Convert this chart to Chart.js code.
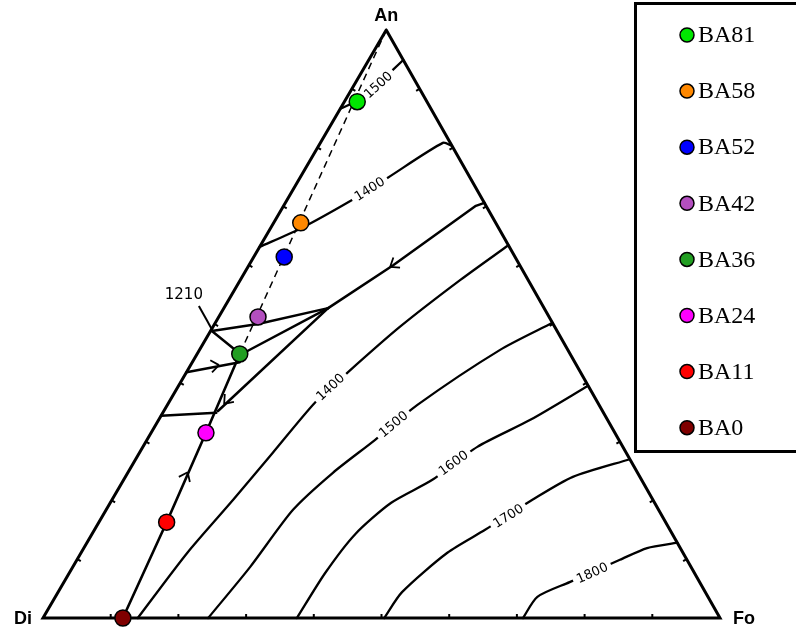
<!DOCTYPE html>
<html>
<head>
<meta charset="utf-8">
<script src="https://cdn.jsdelivr.net/npm/chart.js@4.4.1/dist/chart.umd.min.js"></script>
<style>
  html, body { margin: 0; padding: 0; background: #fff; }
  canvas { display: block; }
</style>
</head>
<body>
<canvas id="c" width="796" height="632"></canvas>
<script>
// Ternary system Di – An – Fo. Every composition is [An, Fo] in wt%; Di = 100 - An - Fo.

// Glass samples on the An – BA0 join
const sampleNames  = ['BA81', 'BA58', 'BA52', 'BA42', 'BA36', 'BA24', 'BA11', 'BA0'];
const sampleAn     = [87.8, 67.2, 61.4, 51.2, 44.9, 31.5, 16.3, 0.0];
const sampleFo     = [1.9, 4.0, 4.5, 5.8, 6.3, 8.1, 10.0, 11.8];
const sampleColors = ['#00e600', '#ff8800', '#0000ff', '#b34fbf', '#229e22', '#ff00ff', '#ff0000', '#7f0000'];

// Apexes and 10 % graduations
const vertexNames = ['An', 'Di', 'Fo'];
const vertices    = [[100, 0], [0, 0], [0, 100]];
const gradSteps   = [10, 20, 30, 40, 50, 60, 70, 80, 90];

// Isotherms (°C)
const iso1500Upper = [[94.9, 5.1], [90.8, 3.4], [88.4, 2.3], [86.6, 0.0]];
const iso1400Upper = [[63.1, 0.0], [66.2, 4.4], [71.1, 9.6], [74.8, 12.9], [80.8, 18.1], [80.3, 19.7]];
const iso1400Lower = [[0, 14.0], [11.1, 15.7], [20.1, 17.9], [28.1, 19.7], [36.6, 21.6], [41.7, 23.8], [49.5, 27.6], [57.5, 32.5], [63.4, 36.6]];
const iso1500Lower = [[0, 24.4], [8.7, 26.2], [18.4, 27.6], [24.7, 30.3], [30.3, 33.7], [36.2, 36.9], [45.6, 44.4], [50.2, 49.8]];
const iso1600      = [[0, 37.5], [7.7, 37.8], [14.3, 38.9], [19.6, 41.5], [23.5, 45.6], [29.1, 49.4], [33.7, 54.9], [39.5, 60.5]];
const iso1700      = [[0, 50.4], [4.4, 50.8], [11.1, 54.1], [15.0, 57.7], [20.1, 62.1], [24.0, 66.1], [27.0, 73.0]];
const iso1800      = [[0, 70.9], [3.6, 71.2], [6.1, 74.7], [9.9, 80.2], [11.9, 83.2], [12.8, 87.2]];

const isoTexts  = ['1500', '1400', '1400', '1500', '1600', '1700', '1800'];
const isoAt     = [[90.7, 3.5], [73.0, 11.2], [39.3, 22.5], [33.0, 35.0], [26.4, 47.2], [17.4, 59.9], [7.7, 77.2]];
const isoCurves = [iso1500Upper, iso1400Upper, iso1400Lower, iso1500Lower, iso1600, iso1700, iso1800];

// Field boundaries
const eutectic1210   = [48.8, 0.2];
const cotecticAnFo   = [[70.6, 29.4], [70.1, 28.4], [60.0, 21.3], [52.7, 15.4]];
const wedgeUpper     = [[52.7, 15.4], [50.0, 6.4], eutectic1210];
const wedgeMiddle    = [[52.7, 15.4], [44.9, 6.6]];
const wedgeLower     = [[52.7, 15.4], [35.2, 8.0]];
const eutecticToBA36 = [eutectic1210, [45.2, 5.9]];
const tieUpper       = [[41.8, 0.0], [43.5, 7.0]];
const tieLower       = [[34.4, 0.0], [34.9, 7.9]];

// Arrowheads: tip composition and a composition it points towards
const arrowTips    = [[59.7, 21.0], [43.0, 4.2], [24.8, 8.8], [36.4, 8.3]];
const arrowTowards = [[52.7, 15.4], [43.5, 7.0], [31.5, 8.1], [35.2, 8.0]];

// Ternary -> plot coordinates (An apex sits at 50.7 % along the Di–Fo base)
const APEX = 0.507;
const toXY = p => ({ x: p[1] + APEX * p[0], y: p[0] });
const sampleComp = i => [sampleAn[i], sampleFo[i]];

const datasets = [];
sampleNames.forEach((name, i) => {
  datasets.push({
    label: name,
    isSample: true,
    data: [toXY(sampleComp(i))],
    backgroundColor: sampleColors[i],
    borderColor: '#000',
    borderWidth: 1.5,
    pointRadius: 8,
    pointHoverRadius: 8,
    clip: false
  });
});

function addLine(pts, width, extra) {
  datasets.push(Object.assign({
    data: pts.map(toXY),
    showLine: true,
    borderColor: '#000',
    borderWidth: width,
    pointRadius: 0,
    pointHoverRadius: 0,
    fill: false,
    clip: false,
    tension: 0,
    borderCapStyle: 'round',
    borderJoinStyle: 'round'
  }, extra || {}));
}

// composition join: dashed above BA36, solid crystallisation path below
addLine([vertices[0], sampleComp(4)], 1.5, { borderDash: [7, 5], borderCapStyle: 'butt' });
addLine([sampleComp(4), sampleComp(5), sampleComp(6), sampleComp(7)], 2.6);

[cotecticAnFo, wedgeUpper, wedgeMiddle, wedgeLower, eutecticToBA36, tieUpper, tieLower]
  .forEach(l => addLine(l, 2.5));
isoCurves.forEach(c => addLine(c, 2.3, { tension: 0.25 }));
addLine([vertices[0], vertices[1], vertices[2], vertices[0]], 3, { borderJoinStyle: 'miter' });

const overlayPlugin = {
  id: 'ternaryOverlay',
  beforeDatasetDraw(chart, args) {
    if (args.index !== sampleNames.length - 1) return;
    const ctx = chart.ctx;
    const xs = chart.scales.x, ys = chart.scales.y;
    const px = p => { const q = toXY(p); return [xs.getPixelForValue(q.x), ys.getPixelForValue(q.y)]; };
    ctx.save();
    ctx.strokeStyle = '#000';
    ctx.fillStyle = '#000';

    // graduation ticks on the three sides, pointing inwards
    const V = vertices.map(px);
    const cx = (V[0][0] + V[1][0] + V[2][0]) / 3, cy = (V[0][1] + V[1][1] + V[2][1]) / 3;
    const sides = [
      s => [0, s],          // Di–Fo
      s => [s, 0],          // Di–An
      s => [s, 100 - s]     // Fo–An
    ];
    const ends = [[V[1], V[2]], [V[1], V[0]], [V[2], V[0]]];
    ctx.lineWidth = 2;
    sides.forEach((f, k) => {
      const [a, b] = ends[k];
      let nx = -(b[1] - a[1]), ny = b[0] - a[0];
      const len = Math.hypot(nx, ny); nx /= len; ny /= len;
      gradSteps.forEach(s => {
        const [x, y] = px(f(s));
        const sgn = ((cx - x) * nx + (cy - y) * ny) > 0 ? 1 : -1;
        ctx.beginPath();
        ctx.moveTo(x, y);
        ctx.lineTo(x + sgn * nx * 4, y + sgn * ny * 4);
        ctx.stroke();
      });
    });

    // arrowheads on the boundary curves
    ctx.lineWidth = 1.8;
    arrowTips.forEach((t, i) => {
      const [x, y] = px(t);
      const [x2, y2] = px(arrowTowards[i]);
      const ang = Math.atan2(y2 - y, x2 - x);
      ctx.beginPath();
      [-0.65, 0.65].forEach(d => {
        ctx.moveTo(x, y);
        ctx.lineTo(x - 10 * Math.cos(ang + d), y - 10 * Math.sin(ang + d));
      });
      ctx.stroke();
    });

    // isotherm labels set into gaps of their curves
    ctx.font = '13px "DejaVu Sans"';
    ctx.textAlign = 'center';
    ctx.textBaseline = 'middle';
    isoTexts.forEach((txt, i) => {
      const [x, y] = px(isoAt[i]);
      const pts = isoCurves[i].map(px);
      let best = 0, bd = Infinity;
      for (let j = 0; j < pts.length - 1; j++) {
        const mx = (pts[j][0] + pts[j + 1][0]) / 2, my = (pts[j][1] + pts[j + 1][1]) / 2;
        const d = Math.hypot(mx - x, my - y);
        if (d < bd) { bd = d; best = j; }
      }
      let ang = Math.atan2(pts[best + 1][1] - pts[best][1], pts[best + 1][0] - pts[best][0]);
      if (Math.cos(ang) < 0) ang += Math.PI;
      const w = ctx.measureText(txt).width;
      ctx.save();
      ctx.translate(x, y);
      ctx.rotate(ang);
      ctx.fillStyle = '#fff';
      ctx.fillRect(-w / 2 - 4, -7, w + 8, 14);
      ctx.fillStyle = '#000';
      ctx.fillText(txt, 0, 1);
      ctx.restore();
    });

    // eutectic label with leader
    const [ex, ey] = px(eutectic1210);
    ctx.lineWidth = 2;
    ctx.beginPath();
    ctx.moveTo(ex - 13, ey - 25);
    ctx.lineTo(ex + 1, ey);
    ctx.stroke();
    ctx.font = '15px "DejaVu Sans"';
    ctx.fillText('1210', ex - 28, ey - 36);

    // apex names
    ctx.font = 'bold 18px "Liberation Sans"';
    const off = [[0, -14], [-20, 1], [24, 1]];
    V.forEach((v, k) => ctx.fillText(vertexNames[k], v[0] + off[k][0], v[1] + off[k][1]));
    ctx.restore();
  },
  afterDraw(chart) {
    const ctx = chart.ctx;
    ctx.save();
    ctx.lineWidth = 3;
    ctx.strokeStyle = '#000';
    ctx.strokeRect(635.5, 3.5, 175, 448);
    ctx.font = '24px "Liberation Serif"';
    ctx.textAlign = 'left';
    ctx.textBaseline = 'middle';
    chart.data.datasets.filter(d => d.isSample).forEach((d, i) => {
      const y = 35 + i * 56.1;
      ctx.beginPath();
      ctx.arc(687, y, 7, 0, Math.PI * 2);
      ctx.fillStyle = d.backgroundColor;
      ctx.fill();
      ctx.lineWidth = 1.5;
      ctx.stroke();
      ctx.fillStyle = '#000';
      ctx.fillText(d.label, 698, y + 1);
    });
    ctx.restore();
  }
};

new Chart(document.getElementById('c'), {
  type: 'scatter',
  data: { datasets },
  options: {
    responsive: false,
    animation: false,
    events: [],
    layout: { padding: { left: 43, right: 76, top: 30, bottom: 14 } },
    scales: {
      x: { type: 'linear', min: 0, max: 100, display: false },
      y: { type: 'linear', min: 0, max: 100, display: false }
    },
    plugins: { legend: { display: false }, tooltip: { enabled: false } }
  },
  plugins: [overlayPlugin]
});
</script>
</body>
</html>
